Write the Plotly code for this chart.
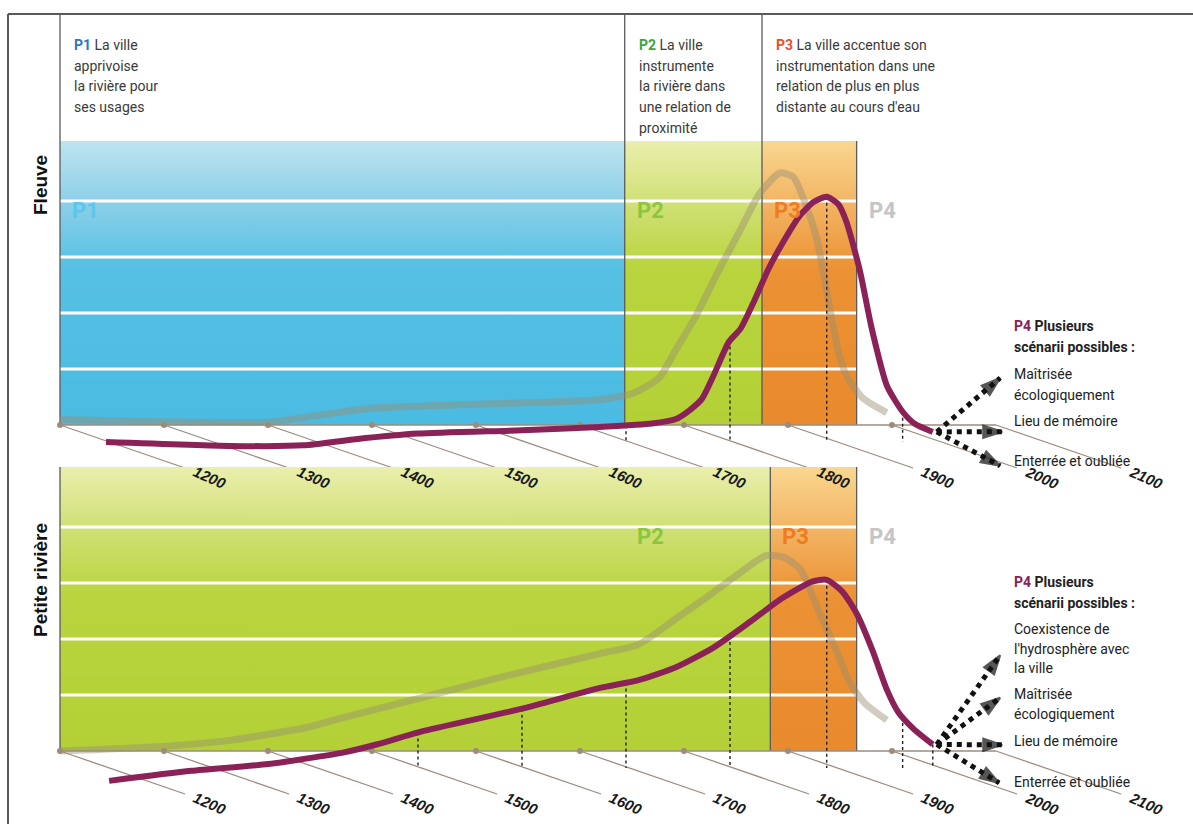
import numpy as np
import plotly.graph_objects as go

# ---------------- data ----------------
TICK_YEARS = [1200, 1300, 1400, 1500, 1600, 1700, 1800, 1900, 2000, 2100]
TICK_LABELS = ["1200", "1300", "1400", "1500", "1600", "1700", "1800", "1900", "2000", "2100"]
DOT_YEARS = [1200, 1300, 1400, 1500, 1600, 1700, 1800, 1900, 2000]

# Fleuve (top panel)
TOP_GREY_YEARS = [1200, 1300, 1400, 1440, 1495, 1600, 1719, 1750, 1765, 1777, 1792, 1811, 1832,
                  1854, 1873, 1892, 1905, 1918, 1928, 1937, 1943, 1950, 1958, 1972, 1995]
TOP_GREY_VALS = [0.10, 0.06, 0.05, 0.15, 0.29, 0.37, 0.45, 0.56, 0.70, 0.86, 1.34, 1.93, 2.71,
                 3.48, 4.14, 4.50, 4.43, 3.89, 3.30, 2.41, 1.80, 1.20, 0.82, 0.48, 0.22]
TOP_PURPLE_YEARS = [1200, 1320, 1390, 1440, 1500, 1600, 1675, 1725, 1748, 1762, 1773, 1784, 1799,
                    1810, 1824, 1837, 1852, 1867, 1880, 1893, 1904, 1912, 1925, 1936, 1951, 1966,
                    1978, 1995]
TOP_PURPLE_VALS = [0.0, -0.07, -0.06, 0.05, 0.15, 0.21, 0.27, 0.33, 0.41, 0.58, 0.77, 1.18, 1.79,
                   2.02, 2.55, 3.09, 3.60, 4.04, 4.28, 4.38, 4.25, 3.93, 3.05, 2.05, 1.00, 0.54,
                   0.32, 0.18]
TOP_PERIODS = ["P1", "P2", "P3"]
TOP_PERIOD_START = [1200, 1743, 1875]
TOP_PERIOD_END = [1743, 1875, 1966]
TOP_LABEL_YEARS = [1200, 1743, 1875, 1966]
TOP_DOTTED_YEARS = [1700, 1800, 1893, 1966]
TOP_ARROW_TIPS_X = [2104, 2106, 2104]
TOP_ARROW_TIPS_Y = [0.84, -0.12, -0.73]

# Petite rivière (bottom panel)
BOT_GREY_YEARS = [1200, 1289, 1363, 1437, 1473, 1547, 1620, 1719, 1756, 1792, 1828, 1858, 1879,
                  1897, 1912, 1930, 1944, 1960, 1974, 1995]
BOT_GREY_VALS = [0.0, 0.07, 0.19, 0.42, 0.60, 0.95, 1.30, 1.74, 1.90, 2.36, 2.83, 3.24, 3.49,
                 3.45, 3.24, 2.48, 1.90, 1.20, 0.85, 0.55]
BOT_PURPLE_YEARS = [1203, 1282, 1356, 1429, 1460, 1503, 1598, 1675, 1712, 1748, 1784, 1820, 1850,
                    1879, 1893, 1908, 1922, 1937, 1951, 1962, 1977, 1995]
BOT_PURPLE_VALS = [-0.23, -0.05, 0.07, 0.28, 0.42, 0.65, 1.05, 1.43, 1.57, 1.80, 2.15, 2.62, 3.03,
                   3.33, 3.36, 3.15, 2.75, 2.10, 1.39, 0.99, 0.69, 0.42]
BOT_PERIODS = ["P2", "P3"]
BOT_PERIOD_START = [1200, 1883]
BOT_PERIOD_END = [1883, 1966]
BOT_LABEL_YEARS = [1743, 1883, 1966]
BOT_DOTTED_YEARS = [1500, 1600, 1700, 1800, 1893, 1966, 1995]
BOT_ARROW_TIPS_X = [2104, 2104, 2106, 2103]
BOT_ARROW_TIPS_Y = [1.71, 0.95, 0.11, -0.57]

GRID_LEVELS = [1, 2, 3, 4]
PANEL_TOP = 5.07

P1_TEXT = ["<b><span style='color:#2c79bd'>P1</span></b> La ville", "apprivoise",
           "la rivière pour", "ses usages"]
P2_TEXT = ["<b><span style='color:#3da63a'>P2</span></b> La ville", "instrumente",
           "la rivière dans", "une relation de", "proximité"]
P3_TEXT = ["<b><span style='color:#e5512a'>P3</span></b> La ville accentue son",
           "instrumentation dans une", "relation de plus en plus", "distante au cours d'eau"]
P4_HEAD = ["<b><span style='color:#8a2258'>P4</span> Plusieurs</b>", "<b>scénarii possibles :</b>"]
TOP_SCENARIOS = [["Maîtrisée", "écologiquement"], ["Lieu de mémoire"], ["Enterrée et oubliée"]]
BOT_SCENARIOS = [["Coexistence de", "l'hydrosphère avec", "la ville"],
                 ["Maîtrisée", "écologiquement"], ["Lieu de mémoire"], ["Enterrée et oubliée"]]
PANEL_NAMES = ["Fleuve", "Petite rivière"]

# ---------------- geometry / style ----------------
W, H = 1193, 824
PX_YEAR = 1.04     # pixels per year
PX_UNIT = 56.0     # pixels per value unit
X1200_PX = 60
TOP_BASE_PX, BOT_BASE_PX = 425, 751


def dx(px):
    return px / PX_YEAR


def dy(px):
    return px / PX_UNIT


X_RANGE = [1200 - dx(X1200_PX), 1200 + dx(W - X1200_PX)]
Y1_RANGE = [-dy(H - TOP_BASE_PX), dy(TOP_BASE_PX)]
Y2_RANGE = [-dy(H - BOT_BASE_PX), dy(BOT_BASE_PX)]

DEPTH_X, DEPTH_Y = dx(46), dy(17)          # offset of the front (purple) plane
TICK_DX, TICK_DY = dx(125), dy(43)
LAB_DX, LAB_DY = dx(150), dy(52)

GRADS = {
    "P1": [[0, "#4abbe2"], [0.55, "#56c0e4"], [0.8, "#8fd1e9"], [1, "#bfe4ef"]],
    "P2": [[0, "#b3d136"], [0.55, "#b9d43e"], [0.8, "#d2e17a"], [1, "#eaefad"]],
    "P3": [[0, "#e98a2c"], [0.55, "#ec9234"], [0.8, "#f3b767"], [1, "#fad78f"]],
}
PCOL = {"P1": "#5ec5ec", "P2": "#8cc63e", "P3": "#f07c22", "P4": "#c3c5c7"}
GREY = "rgba(152,142,112,0.45)"
PURPLE = "#8a2258"
AXIS_BROWN = "#9c8c7f"
FRAME = "#5a5a5a"
TXT = "#3a3a3a"
FONT = "Roboto"

fig = go.Figure()
annotations = []


def line(x, y, yref, color, width, dash=None, opacity=1.0):
    fig.add_trace(go.Scatter(x=x, y=y, mode="lines", yaxis=yref, hoverinfo="skip",
                             showlegend=False, opacity=opacity,
                             line=dict(color=color, width=width, dash=dash)))


def panel(yref, periods, starts, ends, label_years, grey_y, grey_v, pur_y, pur_v, dotted,
          tips_x, tips_y, top_lines, name, name_y):
    right_end = ends[-1]
    # background gradients
    for p, s, e in zip(periods, starts, ends):
        fig.add_trace(go.Scatter(
            x=[s, e, e, s, s], y=[0, 0, PANEL_TOP, PANEL_TOP, 0], mode="lines",
            fill="toself", yaxis=yref, hoverinfo="skip", showlegend=False,
            line=dict(width=0),
            fillgradient=dict(type="vertical", colorscale=GRADS[p], start=0, stop=PANEL_TOP)))
    # white grid
    for g in GRID_LEVELS:
        line([starts[0], right_end], [g, g], yref, "white", 3)
    # boundaries
    line([starts[0], starts[0]], [0, top_lines[0]], yref, FRAME, 1.3)
    for s, tl in zip(starts[1:], top_lines[1:]):
        line([s, s], [0, tl], yref, FRAME, 1.3)
    line([right_end, right_end], [0, PANEL_TOP], yref, FRAME, 1.3)
    # period labels inside
    for p, s in zip(periods[-len(label_years) + 1:] + ["P4"], label_years):
        annotations.append(dict(x=s + dx(10), y=PANEL_TOP - dy(69), xref="x", yref=yref,
                                text=f"<b>{p}</b>", showarrow=False, xanchor="left",
                                yanchor="middle",
                                font=dict(family=FONT, size=22, color=PCOL[p])))
    # oblique time axis
    line([1200, TICK_YEARS[-1]], [0, 0], yref, AXIS_BROWN, 1.5)
    for t, lab in zip(TICK_YEARS, TICK_LABELS):
        line([t, t + TICK_DX], [0, -TICK_DY], yref, AXIS_BROWN, 1.3)
        annotations.append(dict(x=t + LAB_DX, y=-LAB_DY, xref="x", yref=yref,
                                text=f"<b><i>{lab}</i></b>",
                                showarrow=False, textangle=24,
                                font=dict(family="Liberation Sans", size=15, color="#1a1a1a")))
    fig.add_trace(go.Scatter(x=DOT_YEARS, y=[0] * len(DOT_YEARS), mode="markers", yaxis=yref,
                             hoverinfo="skip", showlegend=False,
                             marker=dict(color=AXIS_BROWN, size=6)))
    # back (grey) curve
    fig.add_trace(go.Scatter(x=grey_y, y=grey_v, mode="lines", yaxis=yref, hoverinfo="skip",
                             showlegend=False,
                             line=dict(color=GREY, width=7, shape="spline", smoothing=0.6)))
    # front (purple) curve
    px_ = [v + DEPTH_X for v in pur_y]
    pv_ = [v - DEPTH_Y for v in pur_v]
    for d in dotted:
        val = float(np.interp(d, pur_y, pur_v))
        line([d + DEPTH_X, d + DEPTH_X], [val - DEPTH_Y, -DEPTH_Y], yref, "#222", 1.4, "dot")
    fig.add_trace(go.Scatter(x=px_, y=pv_, mode="lines", yaxis=yref, hoverinfo="skip",
                             showlegend=False,
                             line=dict(color=PURPLE, width=6, shape="spline", smoothing=0.6)))
    # scenario arrows
    ox, oy = px_[-1] + dx(4), pv_[-1]
    for tx, ty in zip(tips_x, tips_y):
        fig.add_trace(go.Scatter(x=[ox, tx], y=[oy, ty], mode="lines", yaxis=yref,
                                 hoverinfo="skip", showlegend=False,
                                 line=dict(color="#111", width=5, dash="dot")))
        fig.add_trace(go.Scatter(x=[ox, tx], y=[oy, ty], mode="markers", yaxis=yref,
                                 hoverinfo="skip", showlegend=False,
                                 marker=dict(symbol="arrow", size=[0, 20], color="#111",
                                             angleref="previous",
                                             line=dict(color="#111", width=2))))
    # panel name
    annotations.append(dict(x=1200 - dx(20), y=name_y, xref="x", yref=yref,
                            text=f"<b>{name}</b>", showarrow=False, textangle=-90,
                            font=dict(family="Liberation Sans", size=19, color="#111")))


TOP_TEXT_Y = dy(TOP_BASE_PX - 14)   # top frame line (value units on y1)
panel("y", TOP_PERIODS, TOP_PERIOD_START, TOP_PERIOD_END, TOP_LABEL_YEARS, TOP_GREY_YEARS,
      TOP_GREY_VALS, TOP_PURPLE_YEARS, TOP_PURPLE_VALS, TOP_DOTTED_YEARS, TOP_ARROW_TIPS_X,
      TOP_ARROW_TIPS_Y, [TOP_TEXT_Y, TOP_TEXT_Y, TOP_TEXT_Y], PANEL_NAMES[0],
      dy(TOP_BASE_PX - 185))
panel("y2", BOT_PERIODS, BOT_PERIOD_START, BOT_PERIOD_END, BOT_LABEL_YEARS, BOT_GREY_YEARS,
      BOT_GREY_VALS, BOT_PURPLE_YEARS, BOT_PURPLE_VALS, BOT_DOTTED_YEARS, BOT_ARROW_TIPS_X,
      BOT_ARROW_TIPS_Y, [PANEL_TOP, PANEL_TOP], PANEL_NAMES[1], dy(BOT_BASE_PX - 580))

# outer frame
FRAME_X = 1200 - dx(X1200_PX - 8)
line([FRAME_X, X_RANGE[1]], [TOP_TEXT_Y, TOP_TEXT_Y], "y", FRAME, 2)
line([FRAME_X, FRAME_X], [TOP_TEXT_Y, Y1_RANGE[0]], "y", FRAME, 2)

# period descriptions (top)
LINE_STEP = dy(20.7)
first_y = dy(TOP_BASE_PX - 45)
for block, s in zip([P1_TEXT, P2_TEXT, P3_TEXT], TOP_PERIOD_START):
    for i, t in enumerate(block):
        annotations.append(dict(x=s + dx(12), y=first_y - i * LINE_STEP, xref="x", yref="y",
                                text=t, showarrow=False, xanchor="left", yanchor="middle",
                                font=dict(family=FONT, size=14, color=TXT)))

# P4 scenario texts
TEXT_X = 1200 + dx(1012 - X1200_PX)


def text_lines(lines, y0, ay, step=dy(20.5), color="#222"):
    for i, t in enumerate(lines):
        annotations.append(dict(x=TEXT_X, y=y0 - i * step, xref="x", yref=ay, text=t,
                                showarrow=False, xanchor="left", yanchor="middle",
                                font=dict(family=FONT, size=14, color=color)))


text_lines(P4_HEAD, dy(TOP_BASE_PX - 326), "y")
for sc, py in zip(TOP_SCENARIOS, [374, 421, 461]):
    text_lines(sc, dy(TOP_BASE_PX - py), "y")
text_lines(P4_HEAD, dy(BOT_BASE_PX - 582), "y2")
for sc, py in zip(BOT_SCENARIOS, [629, 694, 741, 782]):
    text_lines(sc, dy(BOT_BASE_PX - py), "y2", step=dy(19.5))

fig.update_layout(
    width=W, height=H, margin=dict(l=0, r=0, t=0, b=0),
    paper_bgcolor="white", plot_bgcolor="white",
    xaxis=dict(range=X_RANGE, visible=False, fixedrange=True),
    yaxis=dict(range=Y1_RANGE, visible=False, fixedrange=True),
    yaxis2=dict(range=Y2_RANGE, visible=False, overlaying="y", fixedrange=True),
    annotations=annotations,
    showlegend=False,
)

fig.write_html("out.html", config={"displayModeBar": False},
               post_script="document.body.style.margin='0';")
